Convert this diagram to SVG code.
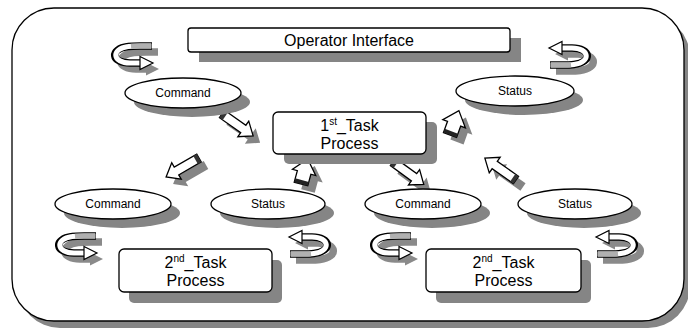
<svg xmlns="http://www.w3.org/2000/svg" width="688" height="332" viewBox="0 0 688 332">
<style>
.ol{fill:#fff;stroke:#000;stroke-width:1.3}
.sh{fill:#858585;stroke:none}
text{font-family:"Liberation Sans",Arial,sans-serif;fill:#000;text-anchor:middle}
.big{font-size:16px}
.sm{font-size:12px}
</style>
<defs>
<polygon id="arr" points="0,-4.5 26,-4.5 26,-9.5 38,0 26,9.5 26,4.5 0,4.5"/>
<polygon id="fat" points="0,-7 12,-7 12,-12 26,0 12,12 12,7 0,7"/>
<g id="curl">
<path d="M40,5 C30,5 22,4.5 16,5.5 C-3,8 -1,22 18,22 L29,22" fill="none" stroke="#000" stroke-width="7.5"/>
<path d="M39.3,5 C30,5 22,4.5 16,5.5 C-1.6,8 0.4,22 18,22 L29.5,22" fill="none" stroke="#fff" stroke-width="5"/>
<path d="M39.3,5 C30,5 24,4.7 19,5.2" fill="none" stroke="#b0b0b0" stroke-width="5"/>
<polygon points="28,15.5 41,22 28,28.5" fill="#fff" stroke="#000" stroke-width="1.2"/>
</g>
<g id="curlS">
<path d="M40,5 C30,5 22,4.5 16,5.5 C-3,8 -1,22 18,22 L29,22" fill="none" stroke="#8a8a8a" stroke-width="7.5"/>
<polygon points="28,15.5 41,22 28,28.5" fill="#8a8a8a"/>
</g>
</defs>

<g id="frame">
<rect x="18" y="15" width="672" height="313" rx="42" class="sh" fill="#7a7a7a"/>
<rect x="12" y="8" width="672" height="313" rx="42" class="ol" stroke-width="1.6"/>
</g>

<g id="connectors">
<!-- self loops -->
<use href="#curlS" transform="translate(118,47)"/>
<use href="#curl" transform="translate(112,41)"/>
<use href="#curlS" transform="translate(596,76) rotate(180)"/>
<use href="#curl" transform="translate(590,70) rotate(180)"/>
<use href="#curlS" transform="translate(62,237)"/>
<use href="#curl" transform="translate(56,231)"/>
<use href="#curlS" transform="translate(336,265) rotate(180)"/>
<use href="#curl" transform="translate(330,259) rotate(180)"/>
<use href="#curlS" transform="translate(377,237)"/>
<use href="#curl" transform="translate(371,231)"/>
<use href="#curlS" transform="translate(643,265) rotate(180)"/>
<use href="#curl" transform="translate(637,259) rotate(180)"/>
<!-- straight arrows: shadows -->
<use href="#arr" class="sh" transform="translate(229,121) rotate(35)"/>
<use href="#arr" class="sh" transform="translate(206,165) rotate(150)"/>
<use href="#fat" class="sh" transform="translate(308,191) rotate(-75)"/>
<use href="#fat" class="sh" transform="translate(457,142) rotate(-70)"/>
<use href="#arr" class="sh" transform="translate(400,170) rotate(36)"/>
<use href="#arr" class="sh" transform="translate(523,187) rotate(-145)"/>
<!-- straight arrows -->
<g transform="translate(222,114) rotate(35)"><use href="#arr" class="ol"/><rect x="0" y="-4.5" width="4" height="9" fill="#333"/></g>
<g transform="translate(199,158) rotate(150)"><use href="#arr" class="ol"/><rect x="0" y="-4.5" width="4" height="9" fill="#333"/></g>
<g transform="translate(301,184) rotate(-75)"><use href="#fat" class="ol"/><rect x="0" y="-7" width="4" height="14" fill="#222"/></g>
<g transform="translate(450,135) rotate(-70)"><use href="#fat" class="ol"/><rect x="0" y="-7" width="4" height="14" fill="#222"/></g>
<g transform="translate(393,162) rotate(36)"><use href="#arr" class="ol"/><rect x="0" y="-4.5" width="4" height="9" fill="#333"/></g>
<g transform="translate(516,180) rotate(-145)"><use href="#arr" class="ol"/><rect x="0" y="-4.5" width="4" height="9" fill="#333"/></g>
</g>

<g id="operator">
<rect x="199" y="38" width="322" height="24" class="sh"/>
<rect x="188" y="28" width="322" height="24" rx="3" class="ol"/>
<text x="349" y="46" class="big" font-size="17">Operator Interface</text>
</g>

<g id="cmd-top">
<ellipse cx="192" cy="102" rx="58" ry="15" class="sh"/>
<ellipse cx="183" cy="93" rx="58" ry="15" class="ol"/>
<text x="183" y="97" class="sm">Command</text>
</g>

<g id="status-top">
<ellipse cx="524" cy="100" rx="59" ry="15" class="sh"/>
<ellipse cx="515" cy="91" rx="59" ry="15" class="ol"/>
<text x="515" y="95" class="sm">Status</text>
</g>

<g id="task1">
<rect x="284" y="122" width="153" height="42" rx="5" class="sh"/>
<rect x="273" y="112" width="153" height="42" rx="5" class="ol"/>
<text x="349.5" y="131" class="big">1<tspan font-size="10" dy="-6">st</tspan><tspan dy="6">_Task</tspan></text>
<text x="349.5" y="149" class="big">Process</text>
</g>

<g id="cmd-left">
<ellipse cx="122" cy="213" rx="58" ry="15" class="sh"/>
<ellipse cx="113" cy="204" rx="58" ry="15" class="ol"/>
<text x="113" y="208" class="sm">Command</text>
</g>

<g id="status-left">
<ellipse cx="277" cy="213" rx="57" ry="15" class="sh"/>
<ellipse cx="268" cy="204" rx="57" ry="15" class="ol"/>
<text x="268" y="208" class="sm">Status</text>
</g>

<g id="task2-left">
<rect x="129" y="260" width="153" height="43" rx="5" class="sh"/>
<rect x="119" y="249" width="153" height="43" rx="5" class="ol"/>
<text x="195.5" y="268" class="big">2<tspan font-size="10" dy="-6">nd</tspan><tspan dy="6">_Task</tspan></text>
<text x="195.5" y="286" class="big">Process</text>
</g>

<g id="cmd-right">
<ellipse cx="432" cy="213" rx="58" ry="15" class="sh"/>
<ellipse cx="423" cy="204" rx="58" ry="15" class="ol"/>
<text x="423" y="208" class="sm">Command</text>
</g>

<g id="status-right">
<ellipse cx="584" cy="213" rx="57" ry="15" class="sh"/>
<ellipse cx="575" cy="204" rx="57" ry="15" class="ol"/>
<text x="575" y="208" class="sm">Status</text>
</g>

<g id="task2-right">
<rect x="436" y="260" width="155" height="43" rx="5" class="sh"/>
<rect x="426" y="249" width="155" height="43" rx="5" class="ol"/>
<text x="503.5" y="268" class="big">2<tspan font-size="10" dy="-6">nd</tspan><tspan dy="6">_Task</tspan></text>
<text x="503.5" y="286" class="big">Process</text>
</g>
</svg>
